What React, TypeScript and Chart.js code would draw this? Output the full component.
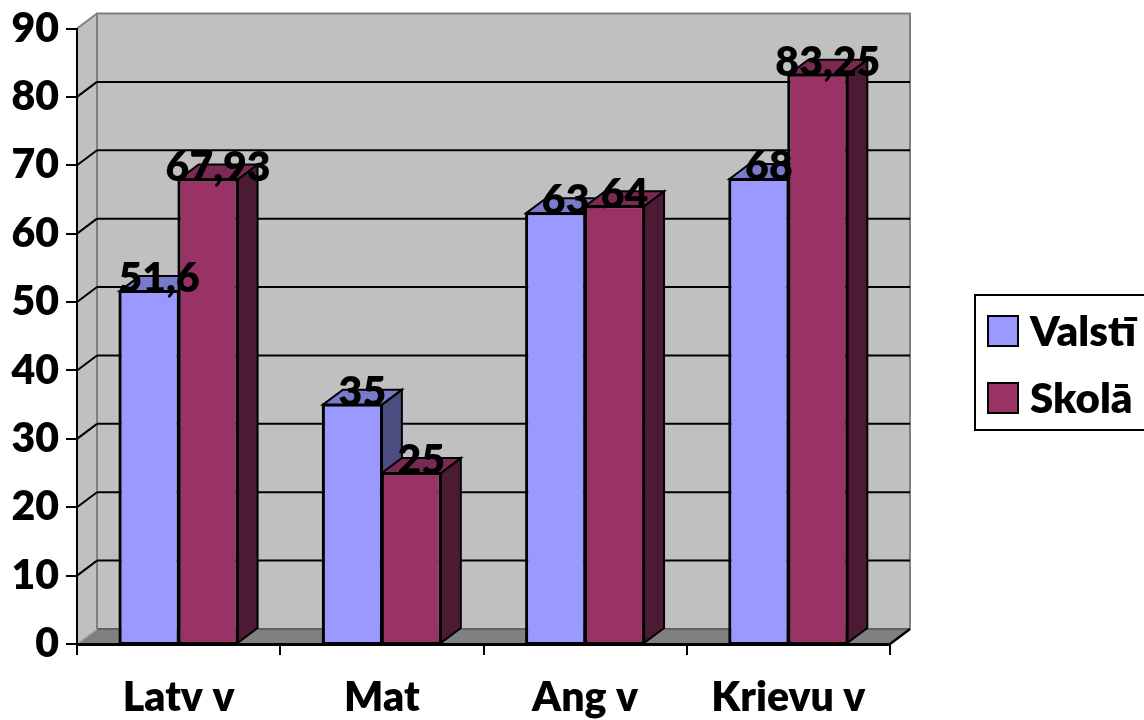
import React, { useEffect, useRef } from "react";
import { Chart, registerables } from "chart.js";

Chart.register(...registerables);

const categories = ["Latv v", "Mat", "Ang v", "Krievu v"];
const valsti = [51.6, 35, 63, 68];
const skola = [67.93, 25, 64, 83.25];
const seriesNames = ["Valstī", "Skolā"];
const yTicks = [0, 10, 20, 30, 40, 50, 60, 70, 80, 90];

const FONT = "Lato, Carlito, sans-serif";
const DX = 20;
const DY = -15;
const FRONT = ["#9999FF", "#993366"];
const TOP = ["#7A7ACC", "#7A2952"];
const SIDE = ["#4C4C80", "#4C1A33"];

function poly(ctx: CanvasRenderingContext2D, pts: number[][], fill: string | null, stroke: string | null, lw = 2) {
  ctx.beginPath();
  pts.forEach((p, i) => (i ? ctx.lineTo(p[0], p[1]) : ctx.moveTo(p[0], p[1])));
  ctx.closePath();
  if (fill) {
    ctx.fillStyle = fill;
    ctx.fill();
  }
  if (stroke) {
    ctx.strokeStyle = stroke;
    ctx.lineWidth = lw;
    ctx.lineJoin = "miter";
    ctx.stroke();
  }
}

function line(ctx: CanvasRenderingContext2D, x1: number, y1: number, x2: number, y2: number, c: string, lw: number) {
  ctx.beginPath();
  ctx.moveTo(x1, y1);
  ctx.lineTo(x2, y2);
  ctx.strokeStyle = c;
  ctx.lineWidth = lw;
  ctx.stroke();
}

const box3d = {
  id: "box3d",
  beforeDraw(chart: any) {
    const { ctx, chartArea: a, scales } = chart;
    const { left: l, right: r, top: t, bottom: b } = a;
    ctx.save();
    ctx.fillStyle = "#fff";
    ctx.fillRect(0, 0, chart.width, chart.height);
    poly(ctx, [[l, t], [l + DX, t + DY], [l + DX, b + DY], [l, b]], "#C0C0C0", null);
    poly(ctx, [[l + DX, t + DY], [r + DX, t + DY], [r + DX, b + DY], [l + DX, b + DY]], "#C0C0C0", "#808080", 2);
    line(ctx, l, t, l + DX, t + DY, "#808080", 2);
    poly(ctx, [[l, b], [l + DX, b + DY], [r + DX, b + DY], [r, b]], "#808080", null);
    line(ctx, l + DX, b + DY, r + DX, b + DY, "#595959", 1.5);
    line(ctx, l, b, l + DX, b + DY, "#A6A6A6", 1.5);
    line(ctx, r, b, r + DX, b + DY, "#000", 2.5);
    yTicks.forEach((v) => {
      if (v === 0 || v === 90) return;
      const y = scales.y.getPixelForValue(v);
      line(ctx, l, y, l + DX, y + DY, "#000", 2);
      line(ctx, l + DX, y + DY, r + DX, y + DY, "#000", 2);
    });
    ctx.restore();
  },
  beforeDatasetsDraw(chart: any) {
    const ctx = chart.ctx;
    ctx.save();
    [0, 1].forEach((di) => {
      chart.getDatasetMeta(di).data.forEach((bar: any) => {
        const { x, y, base, width } = bar.getProps(["x", "y", "base", "width"], true);
        const x0 = x - width / 2;
        const x1 = x + width / 2;
        poly(ctx, [[x1, y], [x1 + DX, y + DY], [x1 + DX, base + DY], [x1, base]], SIDE[di], "#000", 2);
        poly(ctx, [[x0, y], [x0 + DX, y + DY], [x1 + DX, y + DY], [x1, y]], TOP[di], "#000", 2);
      });
    });
    ctx.restore();
  },
  afterDatasetsDraw(chart: any) {
    const ctx = chart.ctx;
    ctx.save();
    // crisp front-face outline, centred on the bar edge
    [0, 1].forEach((di) => {
      chart.getDatasetMeta(di).data.forEach((bar: any) => {
        const { x, y, base, width } = bar.getProps(["x", "y", "base", "width"], true);
        ctx.strokeStyle = "#000";
        ctx.lineWidth = 2;
        ctx.strokeRect(x - width / 2, y, width, base - y);
      });
    });
    ctx.fillStyle = "#000";
    ctx.font = `800 41px ${FONT}`;
    ctx.textAlign = "center";
    ctx.textBaseline = "middle";
    [0, 1].forEach((di) => {
      const ds = chart.data.datasets[di];
      chart.getDatasetMeta(di).data.forEach((bar: any, i: number) => {
        const { x, y } = bar.getProps(["x", "y"], true);
        ctx.fillText(String(ds.data[i]).replace(".", ","), x + DX / 2, y + DY + 3);
      });
    });
    // legend
    ctx.fillStyle = "#fff";
    ctx.fillRect(975, 295, 175, 135);
    ctx.strokeStyle = "#000";
    ctx.lineWidth = 2;
    ctx.strokeRect(975, 295, 175, 135);
    ctx.textAlign = "left";
    ctx.font = `800 42px ${FONT}`;
    [0, 1].forEach((di) => {
      const top = di === 0 ? 316 : 383;
      ctx.fillStyle = FRONT[di];
      ctx.fillRect(988, top, 30, 30);
      ctx.strokeRect(988, top, 30, 30);
      ctx.fillStyle = "#000";
      ctx.fillText(chart.data.datasets[di].label, 1030, top + 16);
    });
    ctx.restore();
  },
};

export default function App() {
  const ref = useRef<HTMLCanvasElement>(null);
  useEffect(() => {
    document.body.style.margin = "0";
    const chart = new Chart(ref.current as HTMLCanvasElement, {
      type: "bar",
      data: {
        labels: categories,
        datasets: [
          { label: seriesNames[0], data: valsti, backgroundColor: FRONT[0], borderColor: "#000", borderWidth: 2 },
          { label: seriesNames[1], data: skola, backgroundColor: FRONT[1], borderColor: "#000", borderWidth: 2 },
        ],
      },
      plugins: [box3d],
      options: {
        responsive: false,
        animation: false,
        layout: { padding: { top: 28.5, right: 254, left: 0, bottom: 0 } },
        datasets: { bar: { barPercentage: 1, categoryPercentage: 0.58 } },
        plugins: { legend: { display: false }, tooltip: { enabled: false }, title: { display: false } },
        scales: {
          x: {
            offset: true,
            afterFit: (s: any) => {
              s.height = 76;
              s.paddingLeft = 0;
              s.paddingRight = 0;
            },
            grid: { display: true, offset: true, drawOnChartArea: false, drawTicks: true, tickLength: 11, color: "#000", lineWidth: 2 },
            border: { display: true, color: "#000", width: 3 },
            ticks: { color: "#000", font: { family: FONT, weight: "800", size: 41 }, padding: 18, maxRotation: 0, autoSkip: false },
          },
          y: {
            min: 0,
            max: 90,
            afterFit: (s: any) => {
              s.width = 77;
              s.paddingTop = 0;
              s.paddingBottom = 0;
            },
            grid: { display: true, drawOnChartArea: false, drawTicks: true, tickLength: 11, color: "#000", lineWidth: 2 },
            border: { display: true, color: "#000", width: 2 },
            ticks: { stepSize: 10, color: "#000", font: { family: FONT, weight: "800", size: 41 }, padding: 7 },
          },
        },
      },
    } as any);
    return () => chart.destroy();
  }, []);
  return (
    <div style={{ position: "absolute", left: 0, top: 0, width: 1144, height: 720, overflow: "hidden", background: "#fff" }}>
      <canvas ref={ref} width={1144} height={720} style={{ display: "block" }} />
    </div>
  );
}
